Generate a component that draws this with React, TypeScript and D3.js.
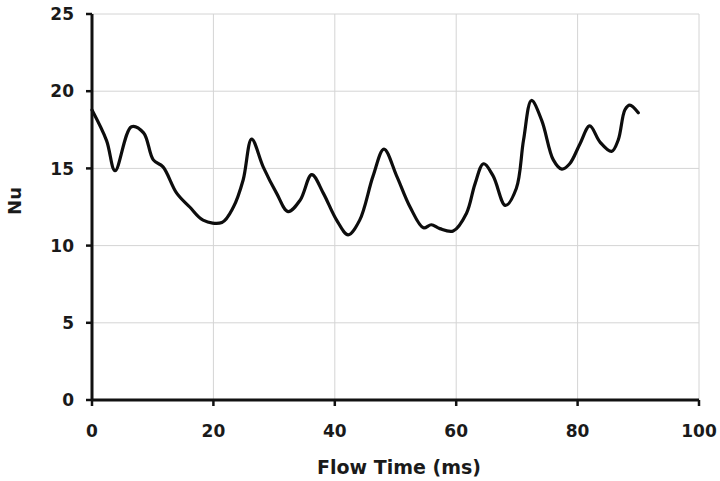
import React from "react";
import * as d3 from "d3";

const timeMs = [0, 2.4, 3.8, 6.5, 8.5, 10.1, 11.7, 13.95, 16.1, 18.3, 21.4, 23.3, 24.9, 26.3, 28.2, 30.4, 32.3, 34.3, 36.2, 38.1, 40.3, 42.2, 44.1, 46.3, 48.1, 50.2, 52.4, 54.6, 55.9, 57.3, 59.5, 61.7, 63.1, 64.5, 66.1, 68.1, 69.9, 71.1, 72.4, 74.1, 76.0, 77.4, 78.7, 80.4, 82.0, 83.7, 85.6, 86.7, 87.8, 88.6, 90.0];
const nuValues = [18.78, 16.8, 14.85, 17.7, 17.3, 15.55, 15.1, 13.4, 12.5, 11.65, 11.5, 12.5, 14.25, 16.9, 15.1, 13.4, 12.2, 12.95, 14.6, 13.4, 11.65, 10.7, 11.65, 14.5, 16.25, 14.5, 12.5, 11.15, 11.35, 11.1, 10.95, 12.1, 14.0, 15.3, 14.5, 12.6, 13.7, 16.85, 19.4, 18.1, 15.55, 14.95, 15.3, 16.6, 17.75, 16.7, 16.1, 16.85, 18.8, 19.1, 18.6];
const xTicks = [0, 20, 40, 60, 80, 100];
const yTicks = [0, 5, 10, 15, 20, 25];
const xLabel = "Flow Time (ms)";
const yLabel = "Nu";

export default function App() {
  const W = 720, H = 481;
  const left = 92, right = 699, top = 14, bottom = 400;
  const x = d3.scaleLinear().domain([0, 100]).range([left, right]);
  const y = d3.scaleLinear().domain([0, 25]).range([bottom, top]);
  const pts: [number, number][] = timeMs.map((t, i) => [t, nuValues[i]]);
  const line = d3.line<[number, number]>()
    .x(d => x(d[0]))
    .y(d => y(d[1]))
    .curve(d3.curveCatmullRom.alpha(0.5));
  const font = "'DejaVu Sans', Verdana, sans-serif";
  return (
    <svg width={W} height={H} style={{ position: "absolute", left: 0, top: 0, background: "#fff" }} fontFamily={font}>
      {xTicks.map(t => (
        <line key={"gx" + t} x1={x(t)} x2={x(t)} y1={top} y2={bottom} stroke="#d4d4d4" strokeWidth={1} />
      ))}
      {yTicks.map(t => (
        <line key={"gy" + t} x1={left} x2={right} y1={y(t)} y2={y(t)} stroke="#d4d4d4" strokeWidth={1} />
      ))}
      <path d={line(pts) || ""} fill="none" stroke="#0d0d0d" strokeWidth={3.2} strokeLinejoin="round" strokeLinecap="round" />
      <line x1={left} x2={left} y1={top} y2={bottom} stroke="#111" strokeWidth={3} />
      <line x1={left} x2={right} y1={bottom} y2={bottom} stroke="#111" strokeWidth={3} />
      {yTicks.map(t => (
        <g key={"yt" + t}>
          <line x1={left - 6} x2={left} y1={y(t)} y2={y(t)} stroke="#111" strokeWidth={2.5} />
          <text x={74} y={y(t)} dy="0.36em" textAnchor="end" fontSize={17} fontWeight="bold" fill="#1a1a1a">{t}</text>
        </g>
      ))}
      {xTicks.map(t => (
        <g key={"xt" + t}>
          <line x1={x(t)} x2={x(t)} y1={bottom} y2={bottom + 6} stroke="#111" strokeWidth={2.5} />
          <text x={x(t)} y={437} textAnchor="middle" fontSize={17} fontWeight="bold" fill="#1a1a1a">{t}</text>
        </g>
      ))}
      <text x={399} y={474} textAnchor="middle" fontSize={19} fontWeight="bold" fill="#1a1a1a">{xLabel}</text>
      <text transform={`translate(21, 201) rotate(-90)`} textAnchor="middle" fontSize={18} fontWeight="bold" fill="#1a1a1a">{yLabel}</text>
    </svg>
  );
}
